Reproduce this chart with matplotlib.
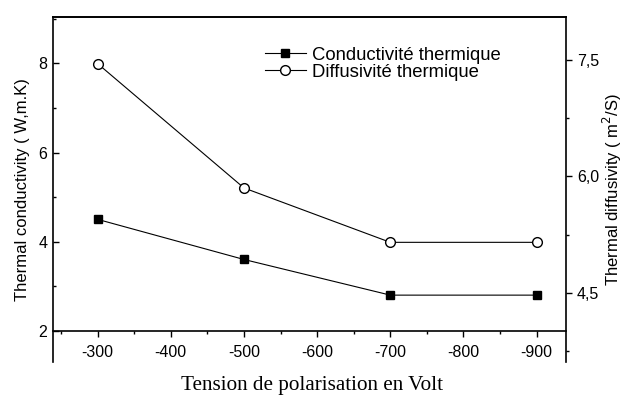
import matplotlib
matplotlib.use("Agg")
import matplotlib.pyplot as plt
from matplotlib.ticker import MultipleLocator, FuncFormatter

# values
tension = [-300, -500, -700, -900]
conductivite = [4.5, 3.6, 2.8, 2.8]
diffusivite = [7.45, 5.85, 5.15, 5.15]

plt.rcParams['font.family'] = ['Liberation Sans', 'DejaVu Sans']
plt.rcParams['axes.unicode_minus'] = False

fig = plt.figure(figsize=(6.33, 4.07), dpi=100)
ax = fig.add_axes([0.0837, 0.1106, 0.8103, 0.8476])
ax2 = ax.twinx()

l1, = ax.plot(tension, conductivite, color='black', lw=0.8, marker='s',
              markersize=6, markerfacecolor='black', label='Conductivité thermique')
l2, = ax2.plot(tension, diffusivite, color='black', lw=0.8, marker='o',
               markersize=7, markerfacecolor='white', label='Diffusivité thermique')

ax.set_xlim(-239, -940)
ax.set_ylim(1.30, 9.04)
ax2.set_ylim(3.61, 8.05)

# Origin-like frame: x axis sits at y = 2
ax.spines['bottom'].set_position(('data', 2))
ax.spines['right'].set_visible(False)
ax2.spines['bottom'].set_visible(False)
ax2.spines['left'].set_visible(False)
for s in ['left', 'top', 'bottom']:
    ax.spines[s].set_linewidth(1.2)
ax2.spines['right'].set_linewidth(1.2)
ax2.spines['top'].set_linewidth(1.2)

ax.set_xticks([-300, -400, -500, -600, -700, -800, -900])
ax.xaxis.set_minor_locator(MultipleLocator(50))
ax.set_yticks([2, 4, 6, 8])
ax.yaxis.set_minor_locator(MultipleLocator(1))
ax2.set_yticks([4.5, 6.0, 7.5])
ax2.yaxis.set_minor_locator(MultipleLocator(0.75))
ax2.yaxis.set_major_formatter(FuncFormatter(lambda v, p: f"{v:.1f}".replace('.', ',')))

ax.tick_params(axis='x', which='major', direction='out', length=4, width=1,
               labelsize=11.5, pad=6, top=False)
ax.tick_params(axis='x', which='minor', direction='out', length=2.5, width=1, top=False)
ax.tick_params(axis='y', which='major', direction='in', length=4, width=1,
               labelsize=11.5, pad=4)
ax.tick_params(axis='y', which='minor', direction='in', length=2.5, width=1)
ax2.tick_params(axis='y', which='major', direction='out', length=4, width=1,
                labelsize=11.5, pad=4)
ax2.tick_params(axis='y', which='minor', direction='out', length=2.5, width=1)

ax.set_ylabel('Thermal conductivity ( W,m.K)', fontsize=12, labelpad=6)
ax2.set_ylabel('Thermal diffusivity ( m$^2$/S)', fontsize=12, rotation=90, labelpad=1)
fig.text(0.493, 0.052, 'Tension de polarisation en Volt', ha='center', va='center',
         fontsize=15.2, family='Liberation Serif')

fig.legend(handles=[l1, l2], loc='upper left', bbox_to_anchor=(0.4186, 0.885),
           frameon=False, fontsize=13.3, handlelength=2.2, handletextpad=0.35,
           labelspacing=0.0, borderpad=0, borderaxespad=0)

fig.savefig('out.png', dpi=100)
